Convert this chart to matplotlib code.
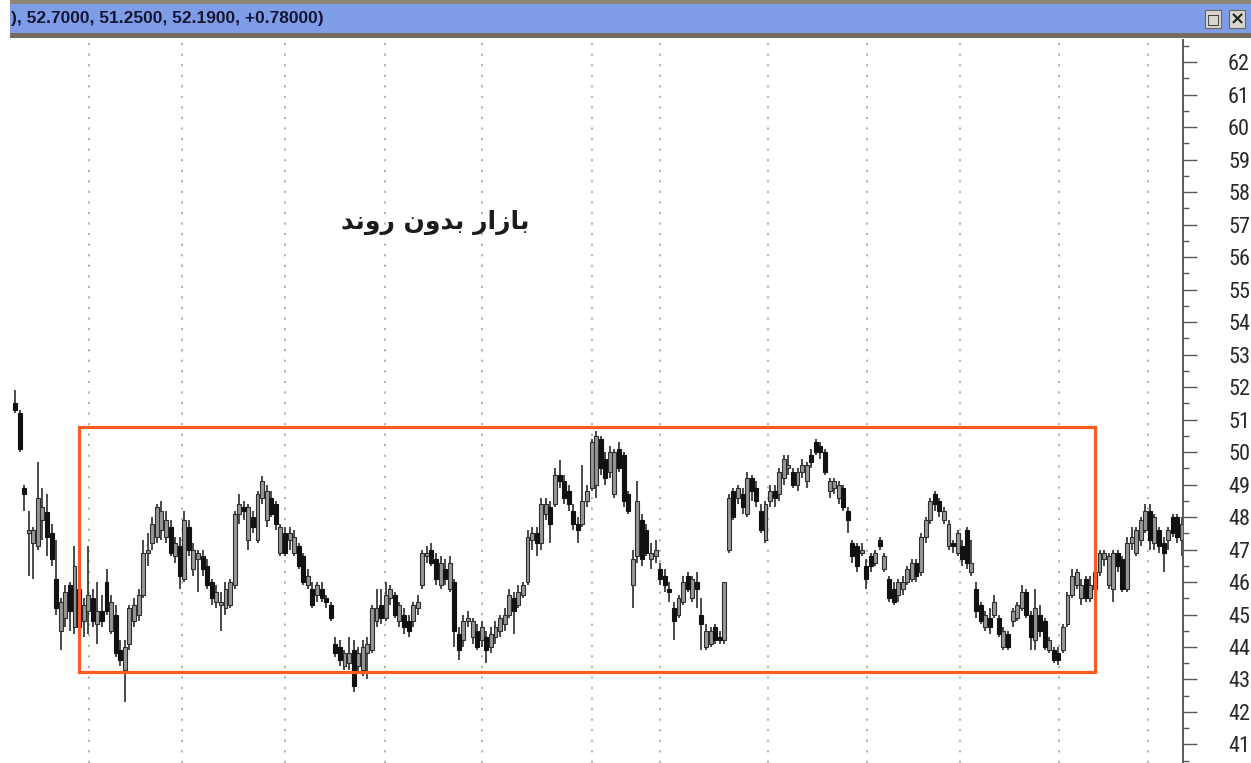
import numpy as np
import matplotlib
matplotlib.use("Agg")
import matplotlib.pyplot as plt
from matplotlib.patches import Rectangle
from matplotlib import font_manager

plt.rcParams['lines.scale_dashes'] = False

# daily candles (price units)
opens = [
    51.5, 51.2, 48.9, 47.5, 47.2, 47.1, 47.9, 48.15, 47.5, 46.1,
    44.5, 44.9, 45.9, 44.6, 45.8, 44.8, 45.1, 45.5, 44.7, 45.1,
    46.0, 44.5, 45.0, 43.9, 43.3, 44.1, 44.8, 45.0, 45.6, 46.9,
    47.2, 47.4, 47.6, 47.4, 47.7, 46.8, 47.1, 46.1, 47.7, 46.4,
    46.7, 46.8, 46.5, 46.0, 45.4, 45.3, 45.2, 45.3, 45.9, 48.1,
    48.3, 47.3, 48.0, 47.3, 48.6, 47.9, 48.6, 48.4, 46.9, 47.5,
    47.3, 46.9, 47.1, 46.8, 45.9, 45.8, 45.6, 45.8, 45.5, 45.3,
    44.1, 44.0, 43.4, 43.5, 43.9, 43.4, 43.3, 43.8, 43.9, 44.8,
    45.3, 44.9, 45.5, 45.6, 44.8, 45.0, 44.8, 44.8, 45.2, 45.9,
    46.8, 47.0, 46.7, 45.9, 46.4, 45.8, 46.0, 44.4, 44.2, 44.8,
    44.3, 44.5, 44.2, 44.3, 44.0, 44.3, 44.5, 44.7, 45.0, 45.5,
    45.3, 45.6, 46.0, 47.3, 47.5, 47.2, 48.1, 48.3, 48.4, 49.3,
    49.1, 48.8, 48.2, 47.8, 47.8, 48.5, 48.9, 49.0, 50.4, 49.8,
    49.4, 48.7, 50.1, 49.9, 48.7, 45.9, 46.8, 47.9, 47.6, 46.7,
    46.8, 46.4, 46.2, 45.8, 45.2, 45.0, 45.4, 46.2, 45.5, 46.0,
    45.0, 44.0, 44.1, 44.6, 44.3, 44.2, 47.0, 48.8, 48.6, 48.7,
    48.1, 49.2, 48.9, 48.2, 47.3, 48.5, 48.8, 48.7, 49.2, 49.5,
    49.4, 49.0, 49.4, 49.1, 49.9, 50.3, 50.2, 50.0, 48.8, 48.9,
    48.6, 48.9, 48.2, 47.2, 47.1, 46.9, 46.5, 46.8, 46.6, 47.3,
    46.4, 46.1, 45.8, 45.6, 45.8, 46.0, 46.1, 46.6, 46.3, 47.4,
    47.9, 48.7, 48.5, 47.9, 47.1, 47.2, 46.9, 47.1, 47.6, 46.3,
    45.8, 45.3, 44.6, 44.9, 45.0, 44.9, 44.0, 44.4, 44.8, 44.9,
    45.2, 45.7, 45.0, 44.2, 45.0, 44.8, 43.9, 43.9, 43.8, 43.9,
    44.7, 45.6, 45.9, 45.5, 46.1, 45.5, 45.8, 46.3, 46.7, 45.9,
    45.8, 46.9, 46.7, 45.8, 47.2, 46.9, 47.3, 47.6, 48.2, 47.2,
    47.6, 47.2, 47.3, 48.0, 48.0, 47.3]

highs = [
    51.9, 51.3, 49.0, 48.2, 47.7, 49.7, 48.9, 48.7, 47.8, 47.3,
    45.5, 45.9, 46.0, 47.1, 46.5, 45.5, 47.1, 45.8, 46.0, 45.6,
    46.4, 45.6, 45.3, 44.2, 44.2, 45.3, 45.5, 45.8, 47.3, 47.5,
    48.0, 48.4, 48.5, 48.2, 47.9, 47.4, 47.4, 48.2, 47.9, 47.2,
    47.0, 47.0, 46.7, 46.1, 45.9, 45.7, 46.0, 46.1, 48.2, 48.7,
    48.5, 48.4, 48.2, 48.8, 49.25, 49.0, 48.8, 48.5, 47.8, 47.7,
    47.7, 47.6, 47.2, 46.9, 46.4, 46.0, 46.0, 46.0, 45.6, 45.4,
    44.3, 44.2, 43.9, 44.3, 44.2, 44.0, 44.2, 44.3, 45.3, 45.8,
    45.8, 46.0, 45.9, 45.7, 45.4, 45.2, 45.0, 45.4, 45.6, 47.0,
    47.1, 47.2, 46.9, 46.8, 46.7, 46.8, 46.1, 44.6, 45.0, 45.1,
    44.9, 44.7, 44.8, 44.5, 44.6, 44.8, 45.0, 45.2, 45.8, 45.7,
    45.9, 46.0, 47.6, 47.7, 47.7, 48.6, 48.6, 48.5, 49.5, 49.75,
    49.3, 49.0, 48.4, 48.0, 49.6, 49.0, 50.4, 50.65, 50.5, 50.0,
    50.2, 50.1, 50.3, 50.0, 48.8, 47.0, 49.1, 48.1, 47.8, 47.2,
    47.3, 46.6, 46.4, 46.0, 45.4, 45.6, 46.2, 46.3, 46.2, 46.3,
    45.5, 44.7, 44.6, 44.7, 44.5, 46.0, 48.7, 48.9, 49.0, 48.9,
    49.4, 49.3, 49.1, 48.4, 48.5, 49.0, 49.0, 49.5, 49.9, 49.9,
    49.5, 49.5, 49.8, 49.7, 50.1, 50.4, 50.3, 50.1, 49.2, 49.2,
    49.1, 49.0, 48.3, 47.3, 47.2, 47.2, 46.7, 46.9, 47.0, 47.4,
    46.9, 46.2, 46.0, 46.1, 46.2, 46.5, 46.7, 46.7, 47.5, 48.0,
    48.6, 48.8, 48.6, 48.3, 47.9, 47.3, 47.6, 47.3, 47.7, 47.3,
    46.0, 45.4, 45.1, 45.2, 45.6, 45.0, 44.6, 44.5, 45.2, 45.4,
    45.9, 45.8, 45.1, 45.8, 45.3, 44.9, 44.3, 44.0, 44.0, 44.7,
    45.7, 46.4, 46.4, 46.1, 46.2, 46.2, 46.5, 47.0, 47.0, 46.9,
    47.0, 47.0, 46.8, 47.4, 47.7, 47.7, 48.0, 48.4, 48.4, 48.1,
    47.7, 47.4, 47.7, 48.1, 48.1, 48.0]

lows = [
    51.2, 50.0, 48.2, 46.2, 46.1, 47.0, 47.3, 46.8, 46.5, 45.0,
    43.9, 44.6, 44.5, 44.4, 44.4, 44.3, 44.4, 44.6, 44.1, 44.6,
    45.0, 44.4, 43.7, 43.4, 42.3, 43.9, 44.6, 44.8, 45.5, 46.5,
    47.0, 47.2, 47.3, 47.2, 46.8, 46.6, 45.8, 46.0, 46.8, 46.2,
    45.7, 46.2, 45.8, 45.3, 45.2, 44.5, 45.0, 45.2, 45.8, 47.8,
    47.9, 47.0, 47.5, 47.2, 48.4, 47.7, 48.0, 47.6, 46.8, 46.8,
    47.0, 46.8, 46.4, 45.9, 45.8, 45.2, 45.4, 45.4, 45.2, 44.8,
    43.7, 43.4, 43.3, 43.3, 42.6, 43.2, 43.1, 43.0, 43.8, 44.6,
    44.7, 44.8, 45.3, 44.9, 44.6, 44.4, 44.3, 44.6, 45.0, 45.8,
    46.6, 46.5, 45.9, 45.8, 45.9, 45.7, 44.0, 43.6, 44.0, 44.6,
    44.1, 43.9, 44.0, 43.5, 43.8, 44.1, 44.3, 44.5, 44.9, 44.4,
    45.2, 45.5, 45.9, 47.0, 46.8, 47.0, 47.9, 47.2, 48.3, 48.9,
    48.4, 48.2, 47.6, 47.2, 47.7, 48.3, 48.8, 48.6, 49.3, 49.0,
    49.2, 48.6, 49.4, 48.3, 48.1, 45.2, 46.6, 46.5, 46.8, 46.4,
    46.6, 45.9, 45.7, 45.4, 44.2, 44.9, 45.3, 45.7, 45.4, 45.2,
    43.9, 43.9, 44.0, 44.1, 44.1, 44.1, 46.9, 47.9, 48.4, 48.1,
    48.0, 48.5, 48.3, 47.5, 47.2, 48.3, 48.3, 48.5, 49.0, 49.3,
    48.9, 48.8, 49.2, 48.9, 49.5, 49.9, 49.8, 49.3, 48.6, 48.7,
    48.4, 48.2, 47.5, 46.6, 46.3, 46.8, 45.8, 46.3, 46.5, 47.0,
    46.3, 45.4, 45.3, 45.4, 45.6, 45.9, 46.0, 46.0, 46.2, 47.2,
    47.8, 48.2, 48.0, 47.8, 47.0, 46.9, 46.8, 46.5, 46.4, 46.2,
    44.9, 44.7, 44.5, 44.4, 44.9, 44.3, 43.9, 43.9, 44.6, 44.8,
    45.1, 44.9, 43.9, 43.9, 44.3, 43.9, 43.8, 43.5, 43.45, 43.8,
    44.6, 45.5, 45.8, 45.3, 45.4, 45.4, 45.6, 46.2, 46.5, 45.8,
    45.4, 46.3, 45.7, 45.7, 47.0, 46.8, 47.1, 47.5, 47.0, 47.0,
    46.9, 46.3, 47.0, 47.4, 47.2, 46.8]

closes = [
    51.3, 50.1, 48.7, 47.6, 47.6, 48.6, 48.3, 47.4, 46.7, 45.2,
    45.4, 45.7, 45.1, 46.5, 44.6, 45.3, 45.6, 44.8, 45.1, 44.8,
    45.1, 45.4, 43.8, 43.6, 44.0, 45.2, 45.3, 45.6, 46.9, 47.0,
    47.8, 48.3, 48.2, 47.9, 46.9, 47.2, 46.2, 47.9, 47.0, 47.0,
    46.9, 46.4, 45.9, 45.5, 45.7, 45.4, 45.8, 46.0, 48.1, 48.4,
    48.2, 48.3, 47.7, 48.7, 49.1, 48.8, 48.1, 47.8, 47.7, 46.9,
    47.5, 47.4, 46.5, 46.0, 46.2, 45.3, 45.9, 45.5, 45.4, 44.9,
    43.8, 43.6, 43.8, 43.8, 42.8, 43.8, 44.0, 44.1, 45.2, 45.2,
    44.9, 45.6, 45.8, 45.0, 45.3, 44.6, 44.5, 45.3, 45.4, 46.9,
    46.9, 46.6, 46.1, 46.6, 46.1, 46.6, 44.5, 43.9, 44.8, 44.9,
    44.8, 44.0, 44.6, 43.9, 44.4, 44.6, 44.9, 45.0, 45.6, 45.1,
    45.7, 45.9, 47.4, 47.5, 47.2, 48.4, 48.4, 47.8, 49.3, 49.1,
    48.6, 48.4, 47.8, 47.6, 48.5, 48.8, 50.3, 50.5, 49.5, 49.2,
    50.0, 50.0, 49.5, 48.5, 48.2, 46.7, 48.5, 46.7, 46.9, 46.9,
    47.0, 46.1, 45.9, 45.7, 44.8, 45.5, 46.0, 45.8, 46.1, 45.8,
    44.7, 44.5, 44.5, 44.2, 44.2, 46.0, 48.6, 48.0, 48.9, 48.3,
    49.2, 48.8, 48.5, 47.6, 48.4, 48.8, 48.6, 49.4, 49.8, 49.6,
    49.0, 49.4, 49.6, 49.6, 49.7, 50.0, 50.0, 49.4, 49.1, 49.1,
    49.0, 48.3, 47.9, 46.8, 46.5, 47.0, 46.1, 46.5, 46.9, 47.1,
    46.8, 45.5, 45.4, 46.0, 46.0, 46.4, 46.6, 46.2, 47.4, 47.9,
    48.5, 48.4, 48.2, 48.2, 47.8, 47.1, 47.5, 46.7, 46.6, 46.6,
    45.1, 44.8, 45.0, 44.6, 45.4, 44.4, 44.5, 44.0, 45.1, 45.3,
    45.7, 45.0, 44.3, 45.2, 44.5, 44.0, 44.2, 43.6, 43.6, 44.6,
    45.6, 46.2, 46.3, 45.9, 45.5, 45.9, 46.3, 46.9, 46.9, 46.8,
    46.9, 46.5, 45.8, 47.2, 47.4, 47.6, 47.9, 48.2, 47.3, 48.0,
    47.1, 46.9, 47.6, 47.5, 47.4, 47.8]

# dotted vertical grid, in candle index units
grid_at = [16.2, 36.5, 59.0, 80.9, 102.1, 126.1, 141.0, 164.6, 186.2, 206.5, 228.2, 247.6]

# range box drawn on the chart
box_left, box_right = 14.0, 236.0
box_low, box_high = 43.24, 50.78

price_ticks = list(range(41, 63))
header = "), 52.7000, 51.2500, 52.1900, +0.78000)"
# "بازار بدون روند" written with presentation forms, visual order
note = "\uFEAA\uFEE7\uFEED\uFEAD \uFEE5\uFEED\uFEAA\uFE91 \uFEAD\uFE8D\uFEAF\uFE8E\uFE91"

# pick a narrow face for the price scale if there is one
fonts = font_manager.fontManager.ttflist
names = {f.name for f in fonts}
squeezed = {f.name for f in fonts if f.stretch in ('condensed', 'semi-condensed', 'extra-condensed')}
scale_font = dict(family='Liberation Sans', size=13.5)
for cand in ['Liberation Sans Narrow', 'Roboto Condensed', 'Noto Sans Condensed',
             'Open Sans Condensed', 'DejaVu Sans Condensed']:
    if cand in names:
        scale_font = dict(family=cand, size=16)
        break
else:
    for cand in ['Roboto', 'Noto Sans', 'DejaVu Sans', 'Open Sans']:
        if cand in squeezed:
            scale_font = dict(family=cand, stretch='condensed', size=15)
            break

W, H = 1251, 763
fig = plt.figure(figsize=(W / 100, H / 100), dpi=100)
fig.patch.set_facecolor('white')


def fx(px):
    return px / W


def fy(py):
    return 1 - py / H


ax = fig.add_axes([fx(10), 0, fx(1183) - fx(10), fy(40)])
ax.set_facecolor('white')

o = np.array(opens)
h = np.array(highs)
l = np.array(lows)
c = np.array(closes)
x = np.arange(len(o))
up = c >= o

for gx in grid_at:
    ax.axvline(gx, color='#b4b4b4', lw=1.4, linestyle=(0, (1.6, 6.0)), zorder=0)

ax.vlines(x, l, h, color='#2a2a2a', lw=1.2, zorder=2)
ax.bar(x[up], (c - o)[up], bottom=o[up], width=0.86, color='#979797',
       edgecolor='#2e2e2e', linewidth=0.8, zorder=3)
ax.bar(x[~up], (o - c)[~up], bottom=c[~up], width=0.86, color='#111111',
       edgecolor='#111111', linewidth=0.8, zorder=3)

ax.add_patch(Rectangle((box_left, box_low), box_right - box_left, box_high - box_low,
                       fill=False, edgecolor='#ff5b1f', lw=2.3, zorder=5))

ax.set_xlim(-1.09, 255.24)
ax.set_ylim(40.43, 62.68)

for s in ['left', 'top', 'bottom']:
    ax.spines[s].set_visible(False)
ax.spines['right'].set_color('#5a5a5a')
ax.spines['right'].set_linewidth(1.4)

ax.set_xticks([])
ax.yaxis.tick_right()
ax.set_yticks(price_ticks)
ax.set_yticks([t + 0.5 for t in price_ticks] + [40.5], minor=True)
ax.tick_params(axis='y', which='major', length=14 * 0.72, width=1.0, color='#5a5a5a',
               pad=31 * 0.72, labelcolor='#2a2a2a')
ax.tick_params(axis='y', which='minor', length=6 * 0.72, width=1.0, color='#5a5a5a')
for lab in ax.get_yticklabels():
    lab.set_family(scale_font['family'])
    lab.set_fontsize(scale_font['size'])
    if 'stretch' in scale_font:
        lab.set_stretch(scale_font['stretch'])

# window header strip
fig.add_artist(Rectangle((fx(10), fy(4)), fx(1251) - fx(10), fy(0) - fy(4),
                         transform=fig.transFigure, color='#8d8676', lw=0))
fig.add_artist(Rectangle((fx(10), fy(33)), fx(1251) - fx(10), fy(4) - fy(33),
                         transform=fig.transFigure, color='#7f9de6', lw=0))
fig.add_artist(Rectangle((fx(10), fy(38)), fx(1251) - fx(10), fy(33) - fy(38),
                         transform=fig.transFigure, color='#736d61', lw=0))
for bx in [1205, 1229]:
    fig.add_artist(Rectangle((fx(bx), fy(28)), fx(16), fy(0) - fy(18),
                             transform=fig.transFigure, facecolor='#d8d5cf',
                             edgecolor='#6a665e', lw=0.8))
fig.text(fx(1213), fy(19), "\u25A1", ha='center', va='center', fontsize=10,
         color='#202020', family='DejaVu Sans')
fig.text(fx(1237), fy(19), "\u00D7", ha='center', va='center', fontsize=13,
         color='#202020', family='DejaVu Sans', weight='bold')
fig.text(fx(11), fy(19), header, ha='left', va='center', fontsize=12.5,
         weight='bold', color='#151535', family=['Liberation Sans', 'DejaVu Sans'])

fig.text(fx(435), fy(222), note, ha='center', va='center', fontsize=18,
         weight='bold', color='#1c1c1c', family='DejaVu Sans')

fig.savefig('out.png', dpi=100)
